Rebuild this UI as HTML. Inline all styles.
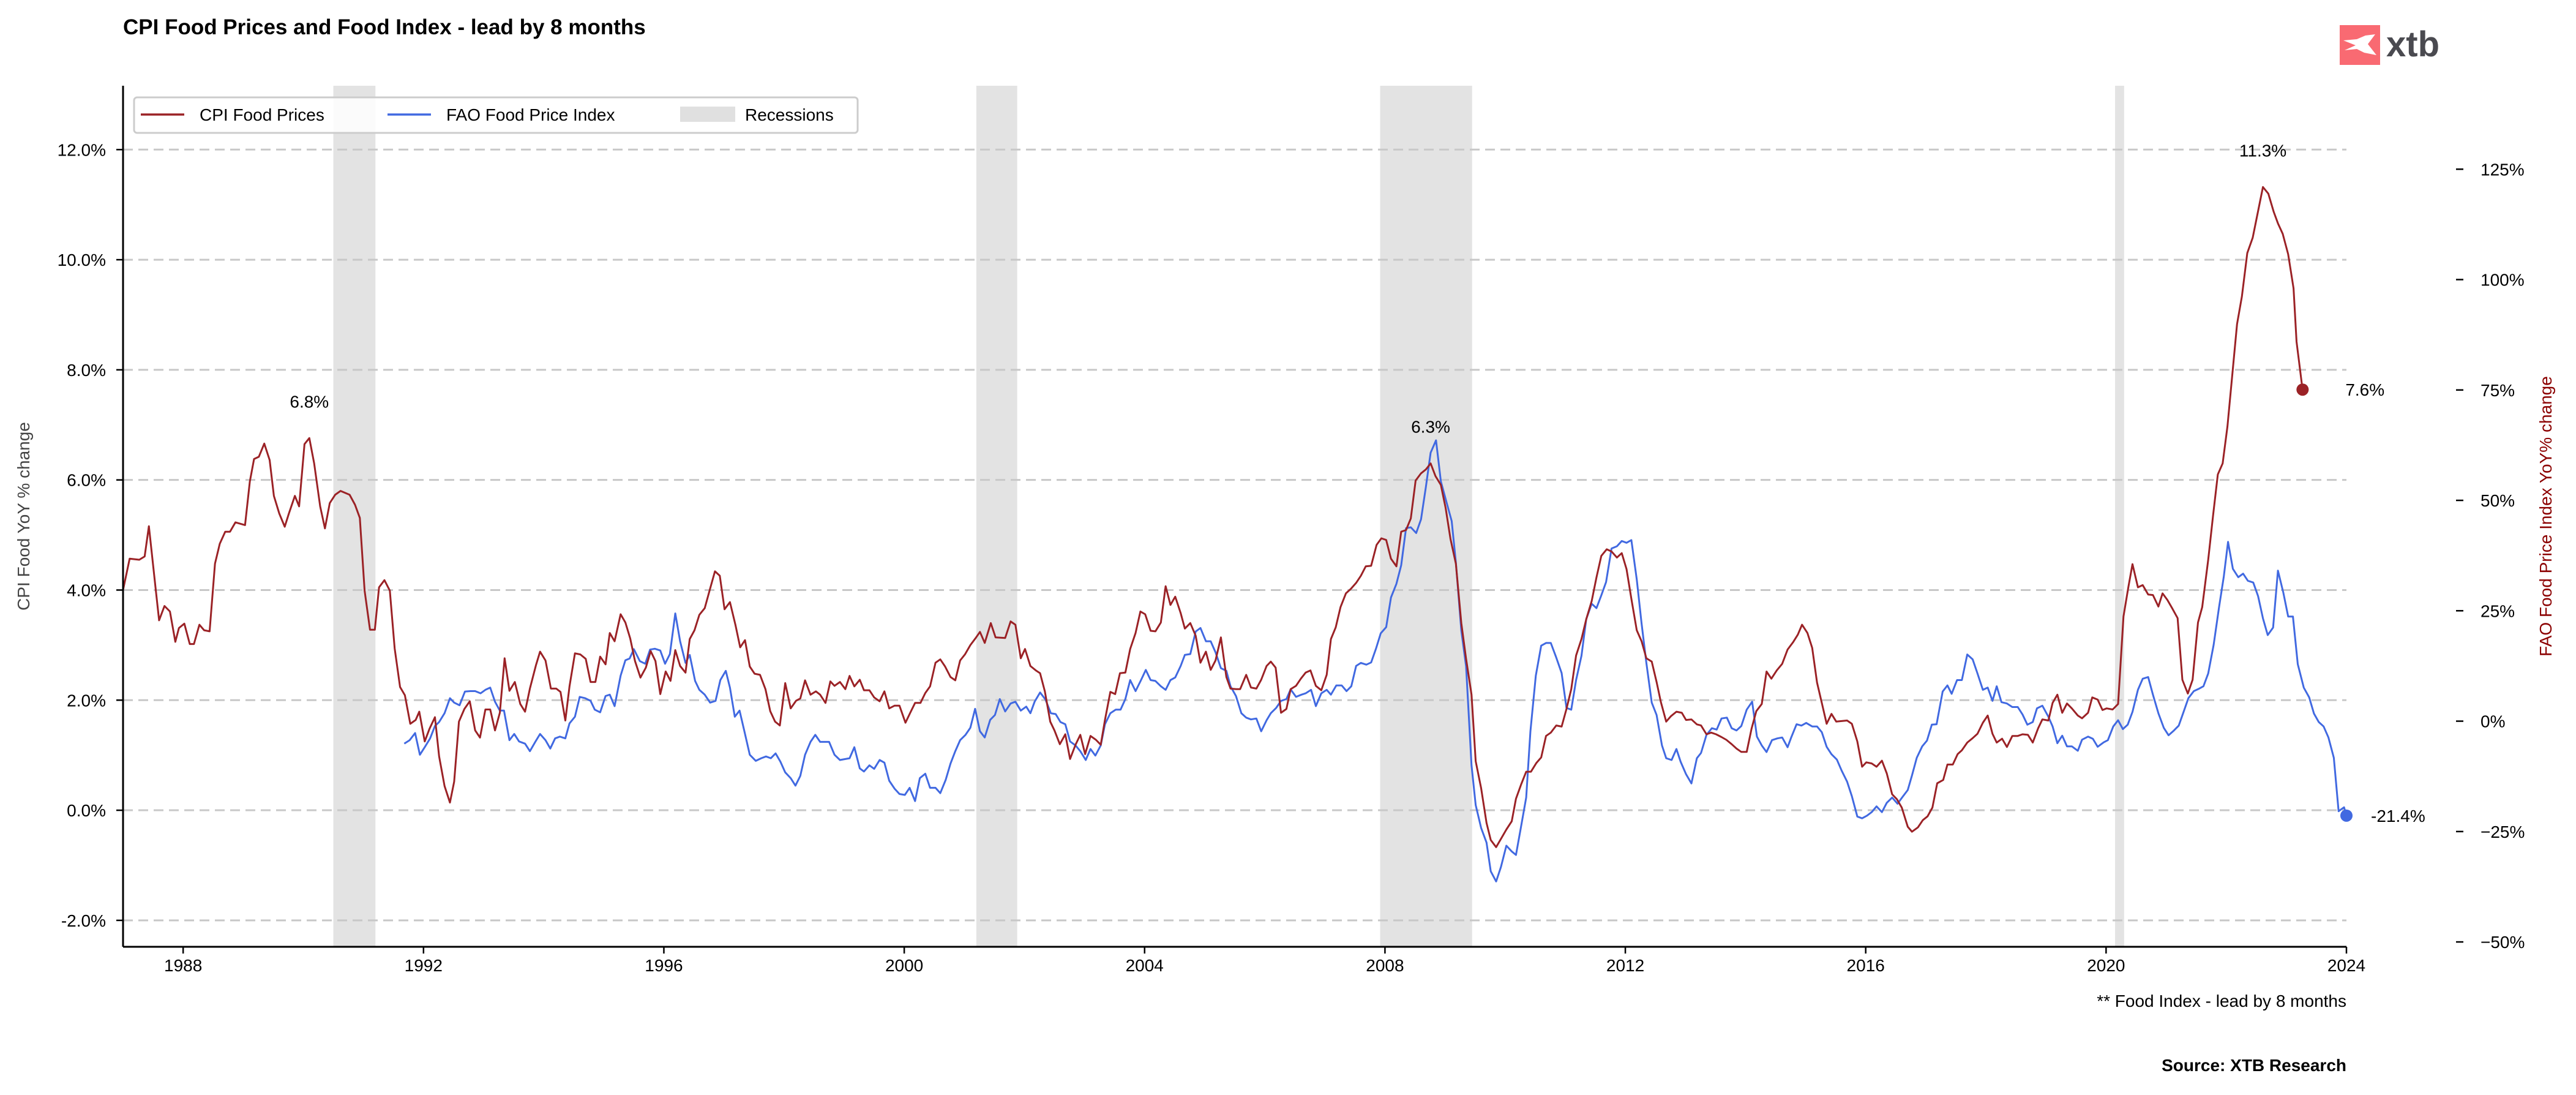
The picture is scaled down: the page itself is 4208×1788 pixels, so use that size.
<!DOCTYPE html>
<html><head><meta charset="utf-8"><style>
html,body{margin:0;padding:0;background:#fff}
svg{display:block;font-family:"Liberation Sans",Arial,sans-serif}
</style></head><body>
<svg id="chart" width="4208" height="1788" viewBox="0 0 4208 1788" xmlns="http://www.w3.org/2000/svg">
<rect width="4208" height="1788" fill="#fff"/>
<text x="201" y="56" font-size="35" font-weight="bold" fill="#000">CPI Food Prices and Food Index - lead by 8 months</text>
<g>
<rect x="3822" y="41" width="66" height="65" fill="#f96a72"/>
<path d="M3828 66 L3850 64 L3864 58 L3880 56 L3868 72 L3882 90 L3862 86 L3850 80 L3830 82 L3848 74 Z" fill="#fff"/>
<text x="3898" y="92" font-size="58" font-weight="bold" fill="#4a4a50">xtb</text>
</g>
<g id="recessions"></g>
<g id="grid"></g>
<g id="series"></g>
<g id="axes"></g>
<g id="annot"></g>
<g>
<rect x="219" y="159" width="1182" height="58" rx="5" fill="#fff" fill-opacity="0.85" stroke="#ccc" stroke-width="3"/>
<line x1="230" y1="187" x2="301" y2="187" stroke="#9b2226" stroke-width="3.5"/>
<text x="326" y="197" font-size="28">CPI Food Prices</text>
<line x1="633" y1="187" x2="704" y2="187" stroke="#4169e1" stroke-width="3.5"/>
<text x="729" y="197" font-size="28">FAO Food Price Index</text>
<rect x="1111" y="174" width="90" height="25" fill="#e0e0e0"/>
<text x="1217" y="197" font-size="28">Recessions</text>
</g>
<text transform="translate(48,843) rotate(-90)" text-anchor="middle" font-size="28" fill="#444">CPI Food YoY % change</text>
<text transform="translate(4168,843) rotate(-90)" text-anchor="middle" font-size="28" fill="#8b0000">FAO Food Price Index YoY% change</text>
<text x="3833" y="1644" text-anchor="end" font-size="28">** Food Index - lead by 8 months</text>
<text x="3833" y="1749" text-anchor="end" font-size="28" font-weight="bold">Source: XTB Research</text>
</svg>
<script>
const xTicks = [1988,1992,1996,2000,2004,2008,2012,2016,2020,2024];
const leftTicks = [-2,0,2,4,6,8,10,12];
const rightTicks = [-50,-25,0,25,50,75,100,125];
const recStart = [1990.5,2001.2,2007.92,2020.15];
const recEnd = [1991.2,2001.88,2009.45,2020.3];
const cpiDates = [1987.00,1987.11,1987.27,1987.36,1987.43,1987.54,1987.60,1987.69,1987.78,1987.87,1987.93,1988.02,1988.11,1988.18,1988.27,1988.35,1988.44,1988.53,1988.61,1988.70,1988.78,1988.87,1989.03,1989.11,1989.18,1989.26,1989.35,1989.44,1989.51,1989.60,1989.69,1989.76,1989.86,1989.93,1990.02,1990.10,1990.18,1990.28,1990.36,1990.44,1990.53,1990.62,1990.77,1990.86,1990.94,1991.02,1991.11,1991.19,1991.26,1991.35,1991.44,1991.52,1991.61,1991.69,1991.78,1991.87,1991.93,1992.02,1992.10,1992.19,1992.26,1992.35,1992.44,1992.51,1992.59,1992.68,1992.77,1992.86,1992.94,1993.03,1993.11,1993.19,1993.27,1993.35,1993.43,1993.52,1993.61,1993.69,1993.77,1993.87,1993.94,1994.03,1994.12,1994.21,1994.28,1994.36,1994.43,1994.52,1994.61,1994.70,1994.78,1994.86,1994.94,1995.03,1995.10,1995.18,1995.28,1995.36,1995.44,1995.52,1995.61,1995.70,1995.78,1995.86,1995.94,1996.03,1996.11,1996.19,1996.27,1996.36,1996.43,1996.51,1996.59,1996.68,1996.76,1996.85,1996.93,1997.01,1997.10,1997.19,1997.27,1997.35,1997.43,1997.51,1997.60,1997.69,1997.77,1997.85,1997.93,1998.02,1998.11,1998.20,1998.27,1998.35,1998.44,1998.53,1998.60,1998.69,1998.77,1998.84,1998.93,1999.02,1999.09,1999.17,1999.26,1999.33,1999.42,1999.50,1999.59,1999.67,1999.75,1999.84,1999.92,2000.02,2000.10,2000.18,2000.27,2000.35,2000.43,2000.52,2000.60,2000.68,2000.77,2000.85,2000.93,2001.01,2001.10,2001.19,2001.26,2001.34,2001.44,2001.52,2001.68,2001.77,2001.85,2001.94,2002.01,2002.10,2002.19,2002.26,2002.34,2002.43,2002.50,2002.59,2002.68,2002.76,2002.85,2002.93,2003.01,2003.10,2003.19,2003.27,2003.34,2003.43,2003.51,2003.59,2003.68,2003.76,2003.85,2003.93,2004.01,2004.10,2004.18,2004.27,2004.35,2004.43,2004.51,2004.60,2004.67,2004.76,2004.85,2004.93,2005.02,2005.10,2005.18,2005.27,2005.36,2005.43,2005.52,2005.59,2005.69,2005.77,2005.86,2005.94,2006.03,2006.10,2006.18,2006.27,2006.36,2006.43,2006.52,2006.60,2006.68,2006.76,2006.85,2006.94,2007.03,2007.10,2007.18,2007.26,2007.35,2007.43,2007.52,2007.60,2007.68,2007.77,2007.86,2007.94,2008.02,2008.10,2008.19,2008.27,2008.35,2008.43,2008.51,2008.60,2008.68,2008.76,2008.84,2008.93,2009.01,2009.09,2009.18,2009.27,2009.35,2009.44,2009.51,2009.60,2009.69,2009.76,2009.85,2009.93,2010.02,2010.11,2010.18,2010.27,2010.35,2010.43,2010.52,2010.60,2010.68,2010.76,2010.85,2010.94,2011.02,2011.10,2011.18,2011.27,2011.35,2011.44,2011.52,2011.60,2011.69,2011.77,2011.86,2011.94,2012.02,2012.10,2012.19,2012.27,2012.35,2012.44,2012.52,2012.59,2012.68,2012.76,2012.85,2012.94,2013.01,2013.10,2013.19,2013.26,2013.35,2013.43,2013.51,2013.60,2013.68,2013.77,2013.85,2013.93,2014.02,2014.10,2014.18,2014.27,2014.35,2014.43,2014.52,2014.61,2014.70,2014.79,2014.87,2014.94,2015.03,2015.11,2015.19,2015.27,2015.35,2015.43,2015.51,2015.60,2015.69,2015.77,2015.86,2015.94,2016.01,2016.10,2016.18,2016.27,2016.35,2016.44,2016.52,2016.60,2016.70,2016.77,2016.87,2016.95,2017.03,2017.11,2017.19,2017.29,2017.36,2017.45,2017.53,2017.60,2017.69,2017.78,2017.86,2017.95,2018.03,2018.11,2018.18,2018.27,2018.35,2018.44,2018.53,2018.61,2018.70,2018.78,2018.87,2018.94,2019.04,2019.11,2019.19,2019.27,2019.35,2019.43,2019.53,2019.60,2019.70,2019.77,2019.86,2019.94,2020.01,2020.11,2020.20,2020.29,2020.37,2020.44,2020.53,2020.61,2020.70,2020.78,2020.87,2020.94,2021.02,2021.10,2021.19,2021.27,2021.36,2021.44,2021.53,2021.60,2021.70,2021.78,2021.86,2021.94,2022.02,2022.18,2022.26,2022.35,2022.44,2022.61,2022.70,2022.79,2022.86,2022.94,2023.03,2023.12,2023.17,2023.27];
const cpiValues = [4.00,4.57,4.55,4.61,5.16,4.05,3.45,3.71,3.61,3.06,3.31,3.39,3.02,3.02,3.37,3.27,3.25,4.48,4.84,5.06,5.06,5.23,5.18,5.97,6.38,6.42,6.66,6.36,5.71,5.39,5.15,5.39,5.71,5.52,6.65,6.76,6.30,5.52,5.12,5.58,5.73,5.80,5.73,5.55,5.31,3.99,3.28,3.28,4.05,4.18,3.99,2.94,2.24,2.09,1.57,1.64,1.79,1.25,1.48,1.69,0.98,0.44,0.14,0.52,1.61,1.84,1.98,1.45,1.32,1.83,1.83,1.45,1.77,2.76,2.17,2.33,1.93,1.79,2.21,2.63,2.88,2.72,2.21,2.21,2.15,1.63,2.25,2.85,2.83,2.75,2.33,2.33,2.79,2.65,3.22,3.07,3.56,3.41,3.12,2.71,2.41,2.59,2.89,2.71,2.11,2.52,2.35,2.91,2.62,2.50,3.11,3.27,3.55,3.67,3.99,4.34,4.26,3.65,3.78,3.37,2.96,3.09,2.61,2.48,2.46,2.20,1.80,1.61,1.54,2.31,1.85,1.99,2.03,2.36,2.10,2.16,2.10,1.95,2.34,2.26,2.33,2.20,2.44,2.25,2.37,2.18,2.18,2.05,1.98,2.16,1.85,1.90,1.90,1.59,1.77,1.95,1.95,2.13,2.25,2.68,2.74,2.61,2.42,2.36,2.72,2.83,3.00,3.13,3.24,3.04,3.40,3.14,3.13,3.43,3.37,2.76,2.93,2.62,2.54,2.49,2.16,1.61,1.45,1.20,1.38,0.93,1.19,1.37,1.02,1.35,1.28,1.19,1.64,2.15,2.11,2.49,2.50,2.93,3.22,3.61,3.56,3.26,3.25,3.41,4.07,3.73,3.88,3.58,3.30,3.40,3.17,2.68,2.88,2.55,2.72,3.14,2.42,2.21,2.20,2.20,2.46,2.23,2.21,2.37,2.62,2.70,2.59,1.77,1.84,2.20,2.26,2.39,2.50,2.54,2.26,2.18,2.46,3.11,3.32,3.69,3.94,4.02,4.13,4.26,4.43,4.44,4.82,4.94,4.91,4.57,4.43,5.06,5.09,5.30,5.99,6.12,6.19,6.30,6.07,5.91,5.49,4.93,4.48,3.40,2.75,2.10,0.89,0.40,-0.23,-0.54,-0.67,-0.52,-0.35,-0.20,0.21,0.48,0.70,0.70,0.86,0.96,1.35,1.41,1.54,1.52,1.84,2.20,2.81,3.11,3.47,3.80,4.23,4.62,4.74,4.70,4.59,4.67,4.38,3.84,3.27,3.07,2.76,2.70,2.33,1.97,1.61,1.71,1.79,1.77,1.64,1.65,1.56,1.54,1.38,1.41,1.38,1.33,1.28,1.20,1.12,1.06,1.06,1.48,1.80,1.93,2.52,2.39,2.54,2.66,2.92,3.05,3.19,3.37,3.22,2.95,2.32,1.95,1.57,1.75,1.61,1.62,1.63,1.57,1.25,0.79,0.87,0.85,0.79,0.90,0.67,0.29,0.20,0.05,-0.30,-0.39,-0.31,-0.18,-0.11,0.05,0.49,0.55,0.83,0.83,1.02,1.09,1.23,1.31,1.39,1.59,1.72,1.39,1.23,1.30,1.15,1.35,1.35,1.38,1.37,1.23,1.49,1.65,1.63,1.95,2.10,1.77,1.94,1.85,1.72,1.67,1.77,2.05,2.01,1.82,1.85,1.83,1.93,3.52,4.05,4.47,4.05,4.09,3.92,3.91,3.70,3.94,3.82,3.67,3.49,2.37,2.12,2.37,3.41,3.69,4.55,5.35,6.10,6.30,6.97,8.83,9.33,10.12,10.40,11.32,11.20,10.87,10.66,10.47,10.10,9.48,8.51,7.64];
const faoDates = [1991.68,1991.77,1991.86,1991.94,1992.02,1992.11,1992.19,1992.26,1992.35,1992.44,1992.51,1992.60,1992.69,1992.78,1992.86,1992.95,1993.03,1993.11,1993.19,1993.27,1993.34,1993.43,1993.51,1993.59,1993.69,1993.77,1993.86,1993.94,1994.03,1994.11,1994.19,1994.27,1994.36,1994.43,1994.52,1994.60,1994.69,1994.78,1994.85,1994.94,1995.03,1995.10,1995.18,1995.28,1995.36,1995.43,1995.50,1995.60,1995.69,1995.77,1995.85,1995.94,1996.02,1996.10,1996.19,1996.27,1996.36,1996.43,1996.52,1996.59,1996.68,1996.77,1996.86,1996.94,1997.03,1997.10,1997.18,1997.26,1997.34,1997.43,1997.53,1997.62,1997.70,1997.78,1997.86,1997.94,1998.02,1998.11,1998.19,1998.27,1998.35,1998.44,1998.52,1998.60,1998.75,1998.84,1998.93,1999.09,1999.17,1999.26,1999.33,1999.42,1999.50,1999.59,1999.67,1999.75,1999.84,1999.92,2000.01,2000.09,2000.18,2000.26,2000.35,2000.43,2000.52,2000.60,2000.69,2000.77,2000.85,2000.93,2001.02,2001.10,2001.18,2001.26,2001.34,2001.43,2001.51,2001.59,2001.68,2001.77,2001.85,2001.94,2002.03,2002.10,2002.17,2002.26,2002.35,2002.44,2002.52,2002.60,2002.68,2002.76,2002.85,2002.93,2003.02,2003.10,2003.18,2003.27,2003.34,2003.43,2003.52,2003.60,2003.68,2003.76,2003.85,2003.94,2004.02,2004.10,2004.18,2004.27,2004.35,2004.43,2004.51,2004.60,2004.67,2004.76,2004.85,2004.93,2005.02,2005.10,2005.18,2005.27,2005.36,2005.43,2005.52,2005.61,2005.69,2005.77,2005.86,2005.94,2006.03,2006.10,2006.19,2006.27,2006.36,2006.43,2006.52,2006.61,2006.68,2006.77,2006.85,2006.94,2007.03,2007.10,2007.19,2007.28,2007.36,2007.44,2007.52,2007.60,2007.69,2007.77,2007.85,2007.93,2008.02,2008.10,2008.19,2008.27,2008.35,2008.43,2008.52,2008.60,2008.68,2008.76,2008.85,2008.93,2009.02,2009.11,2009.18,2009.27,2009.35,2009.44,2009.51,2009.60,2009.69,2009.76,2009.85,2009.93,2010.02,2010.11,2010.18,2010.26,2010.35,2010.42,2010.51,2010.60,2010.68,2010.76,2010.85,2010.94,2011.02,2011.10,2011.18,2011.27,2011.35,2011.44,2011.52,2011.60,2011.68,2011.77,2011.86,2011.94,2012.02,2012.10,2012.19,2012.27,2012.35,2012.44,2012.52,2012.61,2012.68,2012.77,2012.85,2012.92,2013.01,2013.10,2013.19,2013.26,2013.35,2013.44,2013.52,2013.60,2013.69,2013.77,2013.85,2013.93,2014.02,2014.11,2014.19,2014.27,2014.35,2014.44,2014.53,2014.61,2014.70,2014.76,2014.85,2014.93,2015.01,2015.11,2015.19,2015.27,2015.35,2015.43,2015.52,2015.60,2015.69,2015.77,2015.86,2015.94,2016.02,2016.10,2016.18,2016.27,2016.35,2016.44,2016.53,2016.61,2016.70,2016.77,2016.85,2016.94,2017.02,2017.10,2017.18,2017.28,2017.36,2017.43,2017.52,2017.60,2017.69,2017.78,2017.86,2017.95,2018.03,2018.11,2018.18,2018.26,2018.35,2018.44,2018.53,2018.61,2018.69,2018.78,2018.85,2018.94,2019.04,2019.11,2019.19,2019.27,2019.35,2019.43,2019.53,2019.60,2019.70,2019.78,2019.86,2019.96,2020.03,2020.12,2020.20,2020.28,2020.36,2020.44,2020.53,2020.61,2020.70,2020.78,2020.87,2020.96,2021.04,2021.13,2021.21,2021.30,2021.37,2021.46,2021.54,2021.62,2021.70,2021.79,2021.88,2021.96,2022.03,2022.11,2022.20,2022.28,2022.36,2022.45,2022.53,2022.61,2022.69,2022.78,2022.86,2022.95,2023.03,2023.11,2023.19,2023.29,2023.38,2023.46,2023.54,2023.62,2023.70,2023.79,2023.87,2023.96,2024.00];
const faoValues = [-5.1,-4.3,-2.7,-7.6,-5.9,-3.9,-1.1,-0.2,1.8,5.2,4.2,3.6,6.7,6.8,6.8,6.3,7.1,7.6,4.4,2.4,2.4,-4.3,-2.9,-4.6,-5.1,-6.8,-4.7,-2.9,-4.3,-6.2,-3.9,-3.5,-3.9,-0.5,1.0,5.5,5.2,4.6,2.6,2.0,5.7,6.0,3.4,10.3,13.8,14.2,16.3,13.6,13.0,16.2,16.4,16.0,13.0,15.2,24.4,18.1,13.2,15.0,9.1,7.1,6.0,4.2,4.6,9.3,11.4,7.6,1.0,2.4,-2.3,-7.6,-9.0,-8.4,-8.0,-8.4,-7.3,-9.2,-11.6,-12.9,-14.6,-12.4,-7.6,-4.7,-3.1,-4.7,-4.7,-7.6,-8.8,-8.4,-5.9,-10.7,-11.4,-10.0,-10.8,-8.8,-9.4,-13.5,-15.3,-16.5,-16.7,-15.1,-18.1,-12.9,-11.9,-15.1,-15.1,-16.3,-13.3,-9.6,-6.8,-4.3,-3.1,-1.5,2.8,-2.3,-3.7,0.3,1.4,5.0,2.2,4.0,4.4,2.4,3.3,1.8,4.4,6.5,4.9,1.8,1.6,-0.2,-0.7,-4.6,-5.5,-6.8,-8.8,-6.3,-7.8,-5.5,-0.7,1.8,2.6,2.6,5.0,9.3,6.8,9.3,11.6,9.3,9.1,7.9,7.1,9.3,9.9,12.5,15.0,15.2,20.3,21.1,18.1,18.1,15.6,12.0,11.4,7.9,5.7,1.8,0.8,0.4,0.6,-2.3,0.2,1.8,3.0,4.6,5.0,7.2,5.5,6.0,6.3,7.1,3.4,6.3,7.1,6.0,8.1,8.1,6.8,7.9,12.5,13.2,12.8,13.3,16.4,19.9,21.3,28.0,31.1,35.3,43.7,43.9,42.6,45.7,53.0,60.8,63.6,54.3,49.8,45.3,36.0,20.5,12.4,-10.0,-19.0,-24.2,-27.5,-34.0,-36.3,-33.0,-28.2,-29.5,-30.3,-24.2,-17.3,-2.3,10.3,17.1,17.7,17.7,14.4,10.9,3.0,2.6,9.3,14.8,23.1,26.6,25.6,28.5,31.5,39.1,39.6,40.8,40.4,41.0,32.1,22.1,13.2,4.2,1.4,-5.5,-8.4,-8.8,-6.3,-9.2,-12.0,-14.1,-8.4,-7.2,-3.1,-1.6,-1.9,0.6,0.8,-1.6,-2.1,-1.1,2.6,4.4,-3.5,-5.5,-7.0,-4.3,-3.9,-3.7,-5.9,-3.7,-0.7,-1.0,-0.4,-1.2,-1.2,-2.5,-5.8,-7.5,-8.7,-11.2,-13.7,-17.0,-21.6,-22.0,-21.4,-20.6,-19.3,-20.6,-18.5,-17.3,-18.7,-17.2,-15.6,-12.3,-8.3,-5.7,-4.4,-0.8,-0.7,6.7,8.1,6.2,9.3,9.3,15.1,14.0,10.8,7.1,7.6,4.6,7.9,4.3,4.0,3.2,3.2,1.5,-0.8,-0.2,2.9,3.5,1.0,-1.2,-5.0,-3.3,-5.7,-5.7,-6.7,-4.2,-3.5,-4.0,-5.8,-4.8,-4.3,-1.2,0.2,-1.8,-0.8,2.1,7.1,9.6,10.0,6.0,1.8,-1.5,-3.2,-2.1,-1.0,2.5,5.2,6.8,7.3,7.9,10.8,17.3,25.8,32.8,40.6,34.5,32.6,33.4,31.8,31.4,28.3,23.3,19.5,21.2,34.1,29.1,23.7,23.7,12.9,7.6,5.4,1.7,-0.2,-1.2,-3.7,-8.3,-20.4,-19.5,-21.4];

const NS='http://www.w3.org/2000/svg';
const L=201,R=3833,T=140,B=1546;
const X0=1987.0,X1=2024.0, YL0=-2.48, YL1=13.16, YR0=-51.1, YR1=143.9;
function xs(v){return L+(v-X0)/(X1-X0)*(R-L);}
function yl(v){return B-(v-YL0)/(YL1-YL0)*(B-T);}
function yr(v){return B-(v-YR0)/(YR1-YR0)*(B-T);}
function mk(tag,attrs,parent,txt){const e=document.createElementNS(NS,tag);for(const k in attrs)e.setAttribute(k,attrs[k]);if(txt!==undefined)e.textContent=txt;parent.appendChild(e);return e;}
const rec=document.getElementById('recessions'),grid=document.getElementById('grid'),ser=document.getElementById('series'),ax=document.getElementById('axes'),an=document.getElementById('annot');
for(let i=0;i<recStart.length;i++){
  const r=mk('rect',{x:xs(recStart[i]),y:T,width:xs(recEnd[i])-xs(recStart[i]),height:B-T,fill:'#e3e3e3'},rec);
  
  
}
leftTicks.forEach(v=>{
  const g=mk('line',{x1:L,x2:R,y1:yl(v),y2:yl(v),stroke:'#c8c8c8','stroke-width':3,'stroke-dasharray':'16,9'},grid);
  
  
  mk('line',{x1:L-11,x2:L,y1:yl(v),y2:yl(v),stroke:'#000','stroke-width':2.5},ax);
  const t=mk('text',{x:L-28,y:yl(v)+10,'text-anchor':'end','font-size':28},ax,v.toFixed(1)+'%');
  
  
});
rightTicks.forEach(v=>{
  mk('line',{x1:4012,x2:4024,y1:yr(v),y2:yr(v),stroke:'#000','stroke-width':2.5},ax);
  const t=mk('text',{x:4052,y:yr(v)+10,'font-size':28},ax,(v<0?'\u2212':'')+Math.abs(v)+'%');
  
  
});
xTicks.forEach(v=>{
  mk('line',{x1:xs(v),x2:xs(v),y1:B,y2:B+11,stroke:'#000','stroke-width':2.5},ax);
  const t=mk('text',{x:xs(v),y:B+40,'text-anchor':'middle','font-size':28},ax,String(v));
  
  
});
mk('line',{x1:L,x2:L,y1:T,y2:B,stroke:'#000','stroke-width':3},ax);
mk('line',{x1:L,x2:R,y1:B,y2:B,stroke:'#000','stroke-width':3},ax);
function path(d,v,f){return d.map((t,i)=>(i?'L':'M')+xs(t).toFixed(1)+' '+f(v[i]).toFixed(1)).join(' ');}
const fao=mk('path',{d:path(faoDates,faoValues,yr),fill:'none',stroke:'#4169e1','stroke-width':3,'stroke-linejoin':'round'},ser);


const cpi=mk('path',{d:path(cpiDates,cpiValues,yl),fill:'none',stroke:'#9b2226','stroke-width':3,'stroke-linejoin':'round'},ser);


const nC=cpiDates.length-1,nF=faoDates.length-1;
const d1=mk('circle',{cx:xs(cpiDates[nC]),cy:yl(cpiValues[nC]),r:10,fill:'#9b2226'},an);


const d2=mk('circle',{cx:xs(faoDates[nF]),cy:yr(faoValues[nF]),r:10,fill:'#4169e1'},an);


const a1=mk('text',{x:xs(cpiDates[nC])+70,y:yl(cpiValues[nC])+10,'font-size':28},an,cpiValues[nC].toFixed(1)+'%');


const a2=mk('text',{x:xs(faoDates[nF])+40,y:yr(faoValues[nF])+10,'font-size':28},an,faoValues[nF].toFixed(1)+'%');


const peakYears=[1990.10,2008.76,2022.61];
peakYears.forEach(py=>{
  const i=cpiDates.indexOf(py);
  const t=mk('text',{x:xs(cpiDates[i]),y:yl(cpiValues[i])-50,'text-anchor':'middle','font-size':28},an,cpiValues[i].toFixed(1)+'%');
  
  
});
</script>
</body></html>
